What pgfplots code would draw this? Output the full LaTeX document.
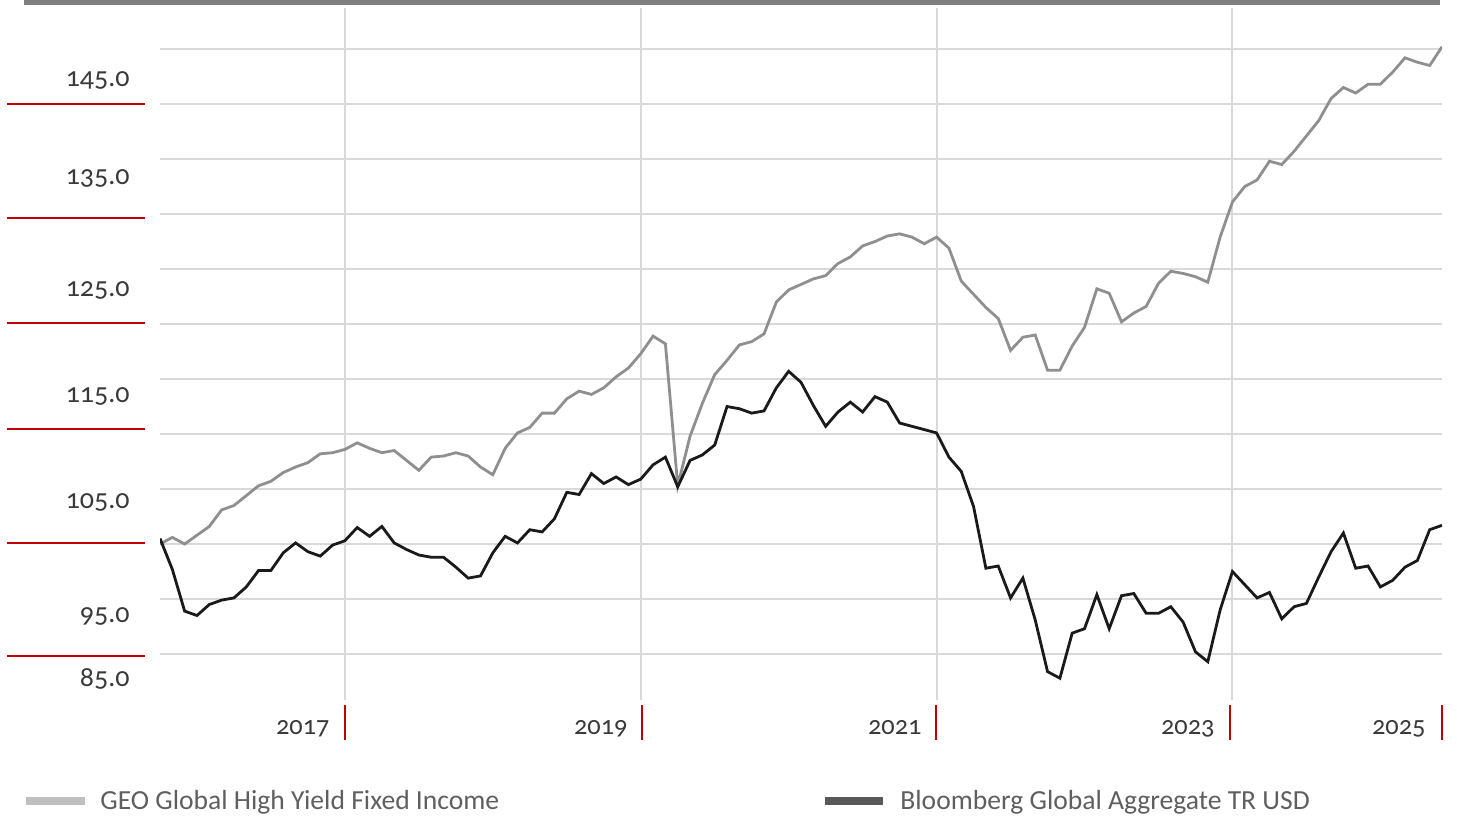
\documentclass[border=0pt]{standalone}
\usepackage{pgfplots}
\pgfplotsset{compat=1.18}
\usepackage{pgfplotstable}
\usepackage{fontspec}
\setmainfont{Carlito}[Numbers=OldStyle]
\definecolor{gridc}{HTML}{D9D9D9}
\definecolor{geoc}{HTML}{8F8F8F}
\definecolor{bbgc}{HTML}{1A1A1A}
\definecolor{redc}{HTML}{C00000}
\definecolor{numc}{HTML}{3A3A3A}
\definecolor{legc}{HTML}{5F5F5F}
\definecolor{leggeo}{HTML}{BFBFBF}
\definecolor{legbbg}{HTML}{595959}
\definecolor{topbar}{HTML}{808080}

\pgfplotstableread{
i v
0 100.0
1 100.6
2 100.0
3 100.8
4 101.6
5 103.1
6 103.5
7 104.4
8 105.3
9 105.7
10 106.5
11 107.0
12 107.4
13 108.2
14 108.3
15 108.6
16 109.2
17 108.7
18 108.3
19 108.5
20 107.6
21 106.7
22 107.9
23 108.0
24 108.3
25 108.0
26 107.0
27 106.3
28 108.7
29 110.1
30 110.6
31 111.9
32 111.9
33 113.2
34 113.9
35 113.6
36 114.2
37 115.2
38 116.0
39 117.3
40 118.9
41 118.2
42 105.3
43 109.8
44 112.8
45 115.4
46 116.7
47 118.1
48 118.4
49 119.1
50 122.0
51 123.1
52 123.6
53 124.1
54 124.4
55 125.5
56 126.1
57 127.1
58 127.5
59 128.0
60 128.2
61 127.9
62 127.3
63 127.9
64 126.9
65 123.9
66 122.7
67 121.5
68 120.5
69 117.6
70 118.8
71 119.0
72 115.8
73 115.8
74 118.0
75 119.7
76 123.2
77 122.8
78 120.2
79 121.0
80 121.6
81 123.7
82 124.8
83 124.6
84 124.3
85 123.8
86 127.9
87 131.1
88 132.5
89 133.1
90 134.8
91 134.5
92 135.7
93 137.1
94 138.5
95 140.5
96 141.5
97 141.0
98 141.8
99 141.8
100 142.9
101 144.2
102 143.8
103 143.5
104 145.2
}\geodata

\pgfplotstableread{
i v
0 100.5
1 97.7
2 93.9
3 93.5
4 94.5
5 94.9
6 95.1
7 96.1
8 97.6
9 97.6
10 99.2
11 100.1
12 99.3
13 98.9
14 99.9
15 100.3
16 101.5
17 100.7
18 101.6
19 100.1
20 99.5
21 99.0
22 98.8
23 98.8
24 97.9
25 96.9
26 97.1
27 99.2
28 100.7
29 100.1
30 101.3
31 101.1
32 102.3
33 104.7
34 104.5
35 106.4
36 105.5
37 106.1
38 105.4
39 105.9
40 107.2
41 107.9
42 105.2
43 107.6
44 108.1
45 109.0
46 112.5
47 112.3
48 111.9
49 112.1
50 114.2
51 115.7
52 114.7
53 112.6
54 110.7
55 112.0
56 112.9
57 112.0
58 113.4
59 112.9
60 111.0
61 110.7
62 110.4
63 110.1
64 107.9
65 106.6
66 103.4
67 97.8
68 98.0
69 95.1
70 96.9
71 93.1
72 88.4
73 87.8
74 91.9
75 92.3
76 95.4
77 92.3
78 95.3
79 95.5
80 93.7
81 93.7
82 94.3
83 92.9
84 90.2
85 89.3
86 94.0
87 97.5
88 96.3
89 95.1
90 95.6
91 93.2
92 94.3
93 94.6
94 97.0
95 99.3
96 101.0
97 97.8
98 98.0
99 96.1
100 96.7
101 97.9
102 98.5
103 101.3
104 101.7
}\bbgdata

\begin{document}
\begin{tikzpicture}
\useasboundingbox (0pt,0pt) rectangle (728.5pt,409.5pt);
% top bar
\fill[topbar] (12pt,407pt) rectangle (720pt,409.5pt);
\begin{axis}[
  at={(80pt,59.5pt)}, anchor=south west,
  scale only axis, width=641pt, height=346pt,
  xmin=0, xmax=104, ymin=85.82, ymax=148.73,
  axis line style={draw=none},
  tick style={draw=none},
  xtick={15,39,63,87}, ytick={90,95,...,145},
  xticklabels={}, yticklabels={},
  grid=major,
  major grid style={color=gridc, line width=1pt},
]
\addplot[color=geoc, line width=1.4pt, mark=none] table[x=i,y=v] {\geodata};
\addplot[color=bbgc, line width=1.4pt, mark=none] table[x=i,y=v] {\bbgdata};
\end{axis}
% y labels
\begin{scope}[every node/.style={anchor=base east, text=numc, font=\fontsize{14}{16}\selectfont, inner sep=0pt}]
\node at (65pt,366pt) {145.0};
\node at (65pt,317pt) {135.0};
\node at (65pt,261pt) {125.0};
\node at (65pt,208pt) {115.0};
\node at (65pt,155pt) {105.0};
\node at (65pt,98pt) {95.0};
\node at (65pt,66pt) {85.0};
\end{scope}
% red y lines
\foreach \yy in {357.5,300.5,248,195,138,81.5}
  \draw[redc, line width=1pt] (3.5pt,\yy pt) -- (72.5pt,\yy pt);
% x labels
\begin{scope}[every node/.style={anchor=base east, text=numc, font=\fontsize{13.2}{15}\selectfont, inner sep=0pt}]
\node at (165pt,42pt) {2017};
\node at (314pt,42pt) {2019};
\node at (461pt,42pt) {2021};
\node at (607.5pt,42pt) {2023};
\node at (713pt,42pt) {2025};
\end{scope}
\foreach \xx in {172.5,321,468,615,721}
  \draw[redc, line width=1pt] (\xx pt,57pt) -- (\xx pt,39.5pt);
% legend
\draw[leggeo, line width=4pt] (13pt,9pt) -- (42.5pt,9pt);
\node[anchor=base west, inner sep=0pt, text=legc, font=\fontsize{13.8}{15}\selectfont] at (50pt,4.5pt) {GEO Global High Yield Fixed Income};
\draw[legbbg, line width=4pt] (412.5pt,9pt) -- (441.5pt,9pt);
\node[anchor=base west, inner sep=0pt, text=legc, font=\fontsize{13.8}{15}\selectfont] at (450pt,4.5pt) {Bloomberg Global Aggregate TR USD};
\end{tikzpicture}
\end{document}
